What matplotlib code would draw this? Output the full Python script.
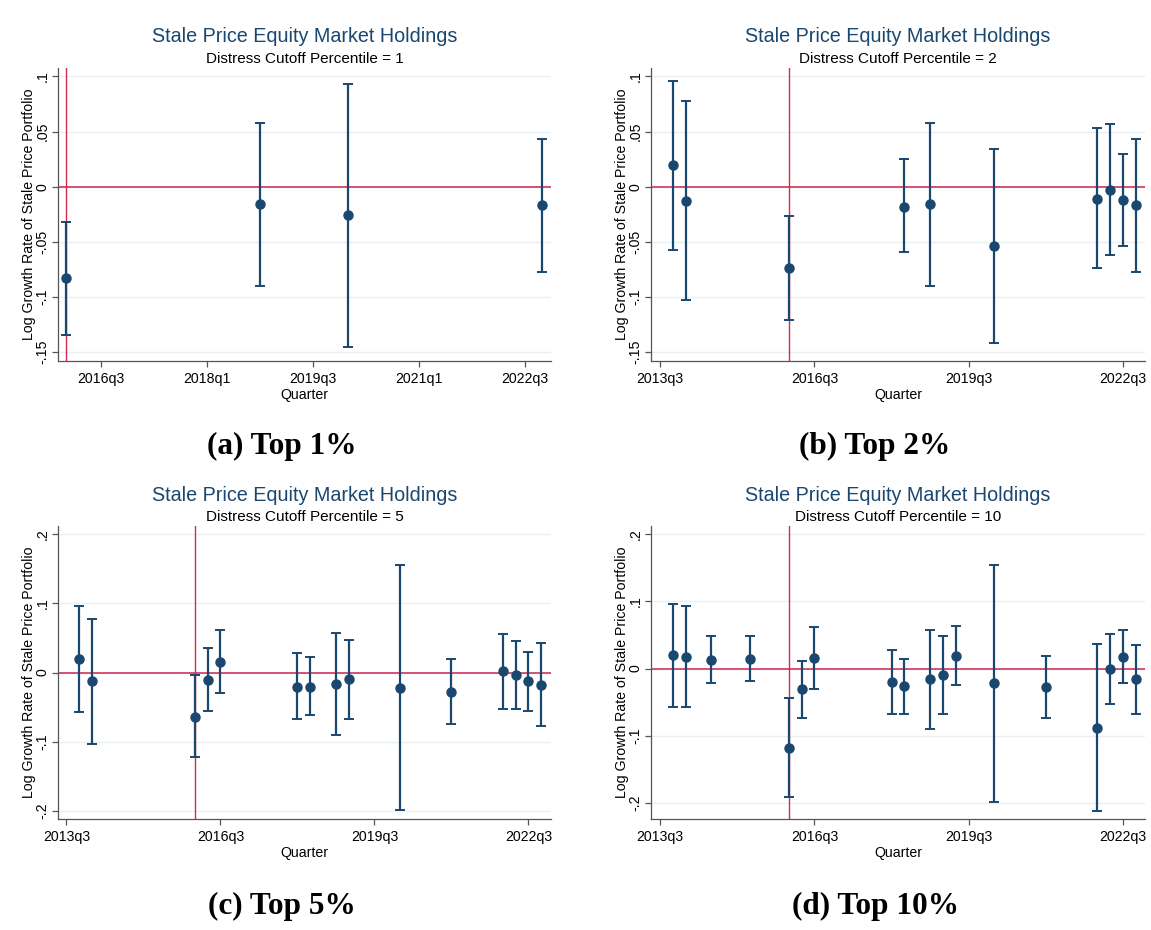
import matplotlib
matplotlib.use("Agg")
import matplotlib.pyplot as plt

plt.rcParams['font.family'] = ['Liberation Sans', 'DejaVu Sans']

NAVY = "#1a476f"
RED = "#d4456a"

# quarter, point estimate, lower CI, upper CI
q_a = ["2016q1", "2018q4", "2020q1", "2022q4"]
est_a = [-0.083, -0.016, -0.026, -0.017]
lo_a = [-0.134, -0.090, -0.145, -0.077]
hi_a = [-0.032, 0.058, 0.093, 0.043]

q_b = ["2013q4", "2014q1", "2016q1", "2018q2", "2018q4", "2020q1",
       "2022q1", "2022q2", "2022q3", "2022q4"]
est_b = [0.020, -0.013, -0.074, -0.018, -0.016, -0.054, -0.011, -0.003, -0.012, -0.017]
lo_b = [-0.057, -0.103, -0.121, -0.059, -0.090, -0.142, -0.074, -0.062, -0.054, -0.077]
hi_b = [0.096, 0.078, -0.027, 0.025, 0.058, 0.034, 0.053, 0.057, 0.030, 0.043]

q_c = ["2013q4", "2014q1", "2016q1", "2016q2", "2016q3", "2018q1", "2018q2",
       "2018q4", "2019q1", "2020q1", "2021q1", "2022q1", "2022q2", "2022q3", "2022q4"]
est_c = [0.019, -0.013, -0.064, -0.011, 0.015, -0.021, -0.021, -0.017, -0.010,
         -0.022, -0.028, 0.002, -0.003, -0.013, -0.018]
lo_c = [-0.057, -0.103, -0.123, -0.055, -0.030, -0.068, -0.062, -0.091, -0.068,
        -0.199, -0.074, -0.053, -0.053, -0.056, -0.077]
hi_c = [0.096, 0.077, -0.003, 0.035, 0.061, 0.028, 0.022, 0.057, 0.047,
        0.155, 0.019, 0.056, 0.046, 0.030, 0.042]

q_d = ["2013q4", "2014q1", "2014q3", "2015q2", "2016q1", "2016q2", "2016q3",
       "2018q1", "2018q2", "2018q4", "2019q1", "2019q2", "2020q1", "2021q1",
       "2022q1", "2022q2", "2022q3", "2022q4"]
est_d = [0.020, 0.018, 0.013, 0.014, -0.118, -0.031, 0.016, -0.020, -0.026,
         -0.016, -0.010, 0.019, -0.021, -0.028, -0.088, -0.001, 0.018, -0.016]
lo_d = [-0.057, -0.057, -0.022, -0.018, -0.191, -0.073, -0.030, -0.068, -0.067,
        -0.090, -0.067, -0.024, -0.198, -0.074, -0.212, -0.052, -0.021, -0.067]
hi_d = [0.096, 0.093, 0.049, 0.048, -0.044, 0.012, 0.062, 0.028, 0.015,
        0.058, 0.048, 0.063, 0.154, 0.019, 0.037, 0.051, 0.058, 0.035]

ticks_a = ["2016q3", "2018q1", "2019q3", "2021q1", "2022q3"]
ticks_bcd = ["2013q3", "2016q3", "2019q3", "2022q3"]
yt_small = [-0.15, -0.1, -0.05, 0, 0.05, 0.1]
yl_small = ["-.15", "-.1", "-.05", "0", ".05", ".1"]
yt_big = [-0.2, -0.1, 0, 0.1, 0.2]
yl_big = ["-.2", "-.1", "0", ".1", ".2"]
event_q = "2016q1"


def qnum(s):
    # quarters since 2013q3
    y, q = s.split("q")
    return (int(y) - 2013) * 4 + int(q) - 3


panels = [
    (q_a, est_a, lo_a, hi_a, 1, ticks_a, yt_small, yl_small, (9.56, 37.5), (-0.158, 0.1076), "(a) Top 1%"),
    (q_b, est_b, lo_b, hi_b, 2, ticks_bcd, yt_small, yl_small, (-0.7, 37.7), (-0.158, 0.1076), "(b) Top 2%"),
    (q_c, est_c, lo_c, hi_c, 5, ticks_bcd, yt_big, yl_big, (-0.66, 37.76), (-0.212, 0.212), "(c) Top 5%"),
    (q_d, est_d, lo_d, hi_d, 10, ticks_bcd, yt_big, yl_big, (-0.7, 37.7), (-0.224, 0.2124), "(d) Top 10%"),
]

W, H = 1151, 930
fig = plt.figure(figsize=(W / 100, H / 100), dpi=100)

# axes boxes in pixels: left, right, top, bottom
boxes = [(58, 551, 68, 361), (651, 1145, 68, 361),
         (58, 551, 526, 819), (651, 1145, 526, 819)]
cap_pos = [(282, 446), (875, 446), (282, 906), (875, 906)]

for (qs, est, lo, hi, pct, xt, yt, yl, xlim, ylim, cap), box, cp in zip(panels, boxes, cap_pos):
    l, r, t, b = box
    ax = fig.add_axes([l / W, 1 - b / H, (r - l) / W, (b - t) / H])
    x = [qnum(s) for s in qs]
    yerr = [[e - a for e, a in zip(est, lo)], [c - e for e, c in zip(est, hi)]]
    ax.errorbar(x, est, yerr=yerr, fmt='o', color=NAVY, ms=6.5, elinewidth=1.6,
                capsize=3.5, capthick=1.4, zorder=3)
    ax.axhline(0, color=RED, lw=1.3, zorder=2)
    ax.axvline(qnum(event_q), color="#d42a52", lw=1.0, zorder=2)
    ax.set_xlim(*xlim)
    ax.set_ylim(*ylim)
    ax.set_xticks([qnum(s) for s in xt])
    ax.set_xticklabels(xt, fontsize=10.2)
    ax.set_yticks(yt)
    ax.set_yticklabels(yl, fontsize=10.2, rotation=90, va='center')
    ax.grid(axis='y', color="#e9f0f1", lw=1.0, zorder=0)
    for s in ["top", "right"]:
        ax.spines[s].set_visible(False)
    for s in ["left", "bottom"]:
        ax.spines[s].set_color("#555555")
        ax.spines[s].set_linewidth(0.9)
    ax.tick_params(axis='x', length=4, width=0.9, color="#555555", pad=4)
    ax.tick_params(axis='y', length=4, width=0.9, color="#555555", pad=2)
    ax.set_xlabel("Quarter", fontsize=10.2, labelpad=1)
    ax.set_ylabel("Log Growth Rate of Stale Price Portfolio", fontsize=10.2, labelpad=0)
    hgt = b - t
    ax.text(0.5, 1 + 31 / hgt, "Stale Price Equity Market Holdings", transform=ax.transAxes,
            ha='center', va='center', fontsize=14.2, color=NAVY)
    ax.text(0.5, 1 + 9 / hgt, f"Distress Cutoff Percentile = {pct}", transform=ax.transAxes,
            ha='center', va='center', fontsize=11, color="black")
    fig.text(cp[0] / W, 1 - cp[1] / H, cap, ha='center', va='center', fontsize=22.5,
             fontweight='bold', family='Liberation Serif')

fig.savefig("out.png", dpi=100, facecolor="white")
